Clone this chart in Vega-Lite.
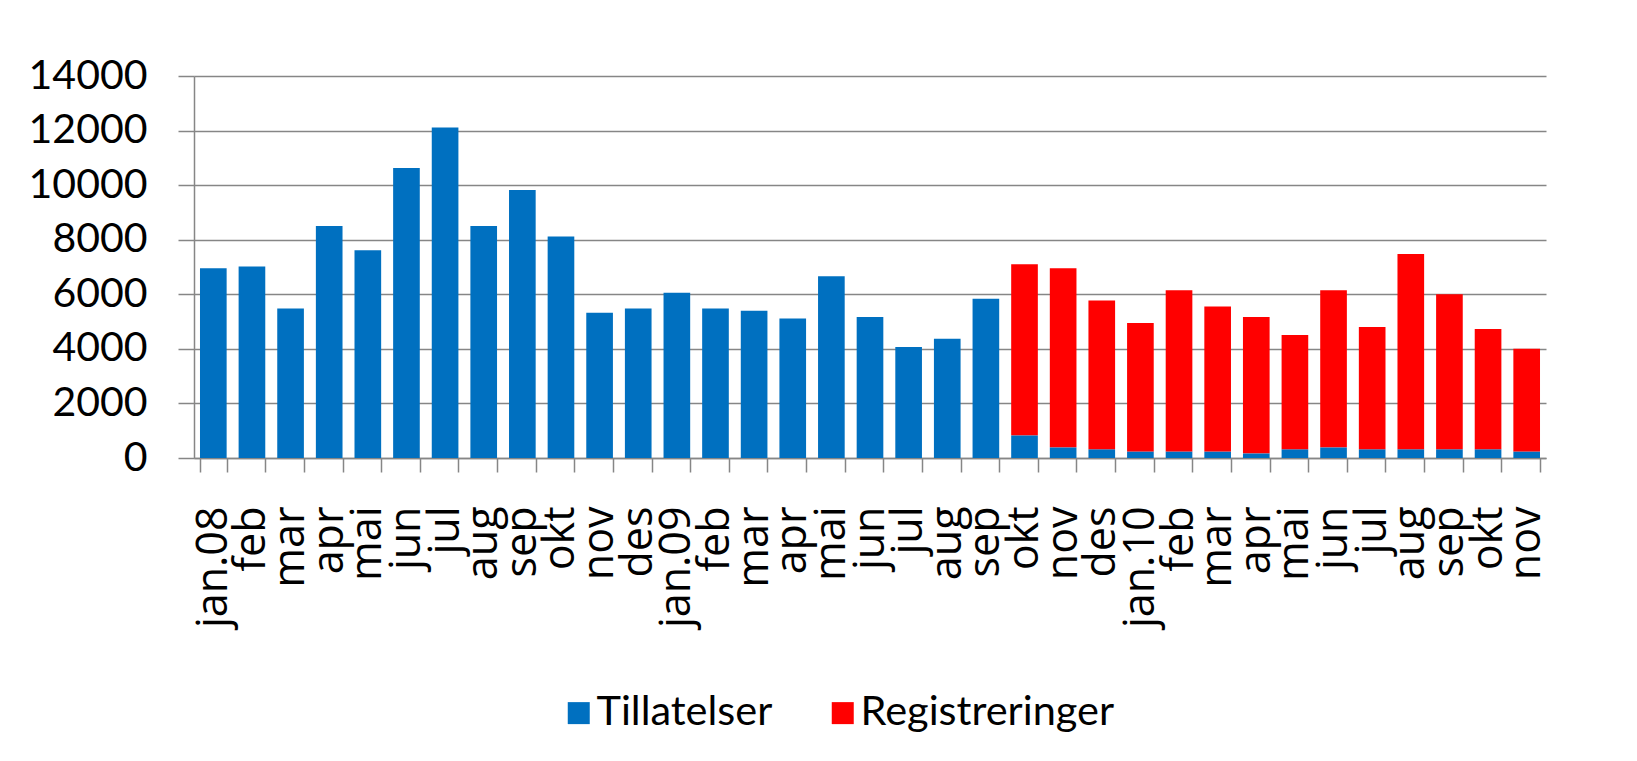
{
  "$schema": "https://vega.github.io/schema/vega-lite/v6.json",
  "width": 1352,
  "height": 382,
  "autosize": {"type": "none"},
  "padding": {"left": 194, "top": 76, "right": 91, "bottom": 303},
  "background": "white",
  "data": {
    "values": [
      {"m": "01|jan.08", "s": "Tillatelser", "v": 6950},
      {"m": "02|feb", "s": "Tillatelser", "v": 7020},
      {"m": "03|mar", "s": "Tillatelser", "v": 5480},
      {"m": "04|apr", "s": "Tillatelser", "v": 8500},
      {"m": "05|mai", "s": "Tillatelser", "v": 7610},
      {"m": "06|jun", "s": "Tillatelser", "v": 10630},
      {"m": "07|jul", "s": "Tillatelser", "v": 12110},
      {"m": "08|aug", "s": "Tillatelser", "v": 8500},
      {"m": "09|sep", "s": "Tillatelser", "v": 9820},
      {"m": "10|okt", "s": "Tillatelser", "v": 8120},
      {"m": "11|nov", "s": "Tillatelser", "v": 5320},
      {"m": "12|des", "s": "Tillatelser", "v": 5480},
      {"m": "13|jan.09", "s": "Tillatelser", "v": 6060},
      {"m": "14|feb", "s": "Tillatelser", "v": 5480},
      {"m": "15|mar", "s": "Tillatelser", "v": 5400},
      {"m": "16|apr", "s": "Tillatelser", "v": 5110},
      {"m": "17|mai", "s": "Tillatelser", "v": 6660},
      {"m": "18|jun", "s": "Tillatelser", "v": 5170},
      {"m": "19|jul", "s": "Tillatelser", "v": 4070},
      {"m": "20|aug", "s": "Tillatelser", "v": 4370},
      {"m": "21|sep", "s": "Tillatelser", "v": 5840},
      {"m": "22|okt", "s": "Tillatelser", "v": 830},
      {"m": "22|okt", "s": "Registreringer", "v": 6270},
      {"m": "23|nov", "s": "Tillatelser", "v": 390},
      {"m": "23|nov", "s": "Registreringer", "v": 6560},
      {"m": "24|des", "s": "Tillatelser", "v": 320},
      {"m": "24|des", "s": "Registreringer", "v": 5450},
      {"m": "25|jan.10", "s": "Tillatelser", "v": 240},
      {"m": "25|jan.10", "s": "Registreringer", "v": 4710},
      {"m": "26|feb", "s": "Tillatelser", "v": 240},
      {"m": "26|feb", "s": "Registreringer", "v": 5910},
      {"m": "27|mar", "s": "Tillatelser", "v": 240},
      {"m": "27|mar", "s": "Registreringer", "v": 5310},
      {"m": "28|apr", "s": "Tillatelser", "v": 170},
      {"m": "28|apr", "s": "Registreringer", "v": 5000},
      {"m": "29|mai", "s": "Tillatelser", "v": 320},
      {"m": "29|mai", "s": "Registreringer", "v": 4190},
      {"m": "30|jun", "s": "Tillatelser", "v": 390},
      {"m": "30|jun", "s": "Registreringer", "v": 5760},
      {"m": "31|jul", "s": "Tillatelser", "v": 320},
      {"m": "31|jul", "s": "Registreringer", "v": 4480},
      {"m": "32|aug", "s": "Tillatelser", "v": 320},
      {"m": "32|aug", "s": "Registreringer", "v": 7160},
      {"m": "33|sep", "s": "Tillatelser", "v": 320},
      {"m": "33|sep", "s": "Registreringer", "v": 5680},
      {"m": "34|okt", "s": "Tillatelser", "v": 320},
      {"m": "34|okt", "s": "Registreringer", "v": 4410},
      {"m": "35|nov", "s": "Tillatelser", "v": 240},
      {"m": "35|nov", "s": "Registreringer", "v": 3760}
    ]
  },
  "mark": {"type": "bar"},
  "encoding": {
    "x": {
      "field": "m",
      "type": "ordinal",
      "sort": null,
      "scale": {"paddingInner": 0.31, "paddingOuter": 0.155},
      "axis": {
        "title": null,
        "labelExpr": "split(datum.label, '|')[1]",
        "labelAngle": -90,
        "labelFont": "Open Sans",
        "labelFontSize": 43,
        "labelColor": "#000000",
        "labelPadding": 34,
        "tickBand": "extent",
        "tickSize": 14,
        "tickColor": "#868686",
        "tickWidth": 1.5,
        "domainColor": "#868686",
        "domainWidth": 1.5,
        "grid": false
      }
    },
    "y": {
      "field": "v",
      "type": "quantitative",
      "stack": "zero",
      "scale": {"domain": [0, 14000], "nice": false},
      "axis": {
        "title": null,
        "values": [0, 2000, 4000, 6000, 8000, 10000, 12000, 14000],
        "format": "d",
        "labelFont": "Lato",
        "labelFontSize": 41,
        "labelColor": "#000000",
        "labelPadding": 31,
        "tickSize": 16,
        "tickColor": "#868686",
        "tickWidth": 1.5,
        "domain": true,
        "domainColor": "#868686",
        "domainWidth": 1.5,
        "grid": true,
        "gridColor": "#868686",
        "gridWidth": 1.5
      }
    },
    "color": {
      "field": "s",
      "type": "nominal",
      "scale": {"domain": ["Tillatelser", "Registreringer"], "range": ["#0070C0", "#FF0000"]},
      "legend": {
        "title": null,
        "orient": "none",
        "direction": "horizontal",
        "legendX": 364,
        "legendY": 616,
        "padding": 0,
        "symbolType": "square",
        "symbolSize": 484,
        "symbolStrokeWidth": 0,
        "symbolOpacity": 1,
        "labelFont": "Lato",
        "labelFontSize": 41.5,
        "labelColor": "#000000",
        "labelOffset": -3,
        "columnPadding": 49,
        "labelLimit": 500
      }
    },
    "order": {"field": "s", "sort": "descending"}
  },
  "config": {
    "view": {"stroke": null}
  }
}
